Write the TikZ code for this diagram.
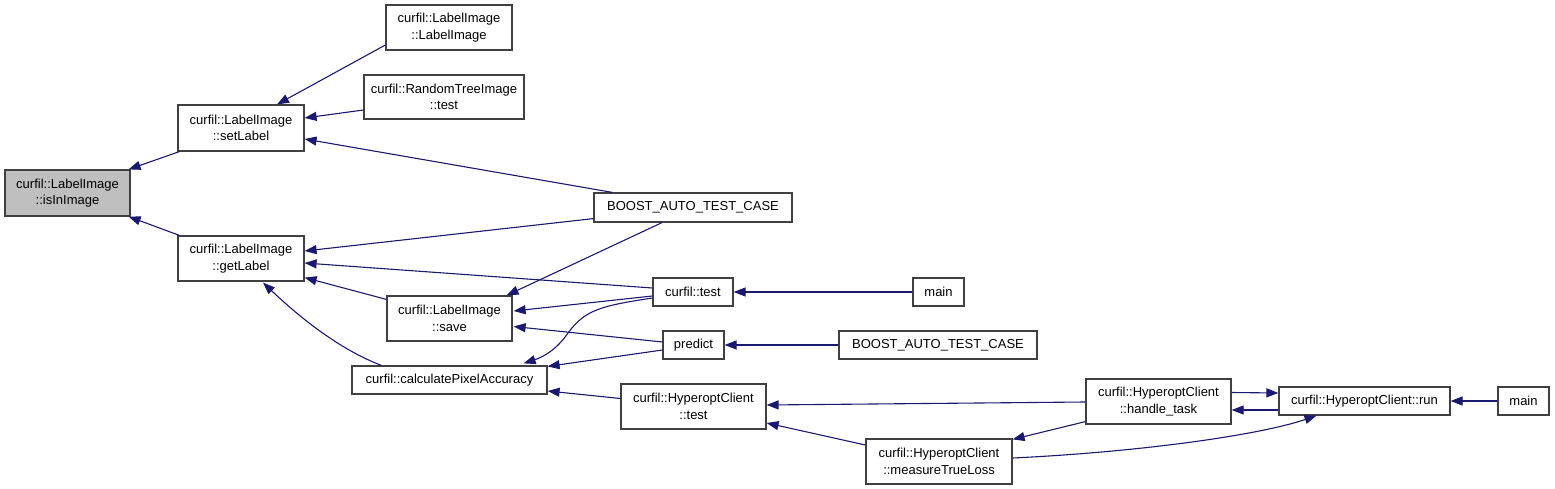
\documentclass[tikz,border=0pt]{standalone}
\usepackage{fontspec}
\setmainfont{Liberation Sans}
\usetikzlibrary{arrows.meta,calc}
\definecolor{edgecol}{RGB}{25,25,112}
\definecolor{boxcol}{RGB}{64,64,64}
\definecolor{hilite}{RGB}{191,191,191}
\tikzset{
  box/.style={draw=boxcol, line width=1.2pt, fill=white, rectangle, inner sep=0pt, align=center,
    font=\fontsize{13}{16.5}\selectfont},
  edge/.style={draw=edgecol, line width=1.1pt, -{Triangle[length=12pt,width=9pt]}}
}
\begin{document}
\begin{tikzpicture}[x=1pt,y=-1pt]
\useasboundingbox (0,0) rectangle (1555,489);
% nodes
\node[box, fill=hilite, minimum width=125pt, minimum height=46pt] (isIn) at (67.5,193) {curfil::LabelImage\\::isInImage};
\node[box, minimum width=126pt, minimum height=46pt] (setLabel) at (241,128) {curfil::LabelImage\\::setLabel};
\node[box, minimum width=126pt, minimum height=45pt] (getLabel) at (241,258.5) {curfil::LabelImage\\::getLabel};
\node[box, minimum width=126pt, minimum height=45pt] (LIctor) at (449,27.5) {curfil::LabelImage\\::LabelImage};
\node[box, minimum width=160pt, minimum height=44pt] (RTI) at (444,97) {curfil::RandomTreeImage\\::test};
\node[box, minimum width=198pt, minimum height=29pt] (B1) at (693,207.5) {BOOST\_AUTO\_TEST\_CASE};
\node[box, minimum width=80pt, minimum height=28pt] (ctest) at (693,292) {curfil::test};
\node[box, minimum width=51pt, minimum height=28pt] (main1) at (938.5,292) {main};
\node[box, minimum width=125pt, minimum height=45pt] (save) at (449.5,318.5) {curfil::LabelImage\\::save};
\node[box, minimum width=61pt, minimum height=28pt] (predict) at (693.5,345) {predict};
\node[box, minimum width=198pt, minimum height=28pt] (B2) at (938,345) {BOOST\_AUTO\_TEST\_CASE};
\node[box, minimum width=195pt, minimum height=28pt] (calc) at (449.5,380) {curfil::calculatePixelAccuracy};
\node[box, minimum width=145pt, minimum height=45pt] (HCtest) at (693.5,406.5) {curfil::HyperoptClient\\::test};
\node[box, minimum width=145pt, minimum height=45pt] (hTask) at (1158.5,401.5) {curfil::HyperoptClient\\::handle\_task};
\node[box, minimum width=171pt, minimum height=28pt] (run) at (1364.5,401) {curfil::HyperoptClient::run};
\node[box, minimum width=51pt, minimum height=28pt] (main2) at (1523.5,401) {main};
\node[box, minimum width=146pt, minimum height=45pt] (mTL) at (939,461.5) {curfil::HyperoptClient\\::measureTrueLoss};
% edges
\draw[edge] ($(setLabel.south west)+(2,0)$) -- ($(isIn.north east)+(-2,0)$);
\draw[edge] ($(getLabel.north west)+(2,0)$) -- ($(isIn.south east)+(-2,0)$);
\draw[edge] ($(LIctor.west)+(0,17.5)$) -- ($(setLabel.north)+(36,0)$);
\draw[edge] ($(RTI.west)+(0,13)$) -- ($(setLabel.east)+(0,-10)$);
\draw[edge] ($(B1.north west)+(19,0)$) -- ($(setLabel.east)+(0,11)$);
\draw[edge] ($(B1.south west)+(0,-4)$) -- ($(getLabel.east)+(0,-7.5)$);
\draw[edge] ($(ctest.west)+(0,-4)$) -- ($(getLabel.east)+(0,4.5)$);
\draw[edge] ($(save.north west)+(0,4)$) -- ($(getLabel.south east)+(0,-4)$);
\draw[edge] ($(calc.north west)+(30,0)$) .. controls ($(calc.north west)+(-12,-16)$) and ($(getLabel.south)+(59,36)$) .. ($(getLabel.south)+(22,1)$);
\draw[edge] ($(B1.south)+(-31,0)$) -- ($(save.north east)+(-6,0)$);
\draw[edge] ($(ctest.west)+(0,4)$) -- ($(save.east)+(1,-7.5)$);
\draw[edge] ($(predict.west)+(0,-3)$) -- ($(save.east)+(1,8)$);
\draw[edge] ($(ctest.west)+(0,6)$) .. controls (600,306) and (585,310) .. (568,333) .. controls (555,352) and (540,358) .. ($(calc.north east)+(-24,-2)$);
\draw[edge] ($(predict.west)+(0,5)$) -- ($(calc.north east)+(0,1)$);
\draw[edge] ($(HCtest.west)+(0,-8)$) -- ($(calc.east)+(0,11)$);
\draw[edge] (main1.west) -- (ctest.east);
\draw[edge] (B2.west) -- (predict.east);
\draw[edge] ($(hTask.west)+(0,0.5)$) -- ($(HCtest.east)+(0,-1.5)$);
\draw[edge] ($(mTL.west)+(0,-16.5)$) -- ($(HCtest.east)+(0,16.5)$);
\draw[edge] ($(hTask.south west)+(0,-3)$) -- ($(mTL.north east)+(0,1)$);
\draw[edge] ($(mTL.east)+(0,-3.5)$) .. controls (1140,452) and (1260,435) .. ($(run.south)+(-48,0)$);
\draw[edge] ($(hTask.east)+(0,-9)$) -- ($(run.west)+(0,-8)$);
\draw[edge] ($(run.west)+(0,9)$) -- ($(hTask.east)+(0,8.5)$);
\draw[edge] (main2.west) -- (run.east);
\end{tikzpicture}
\end{document}
